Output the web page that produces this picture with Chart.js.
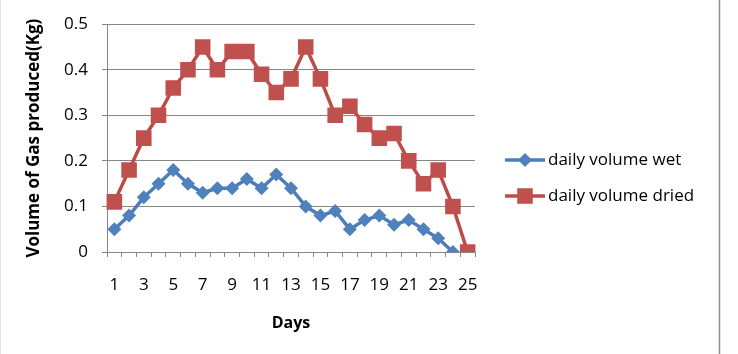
<!DOCTYPE html>
<html>
<head>
<meta charset="utf-8">
<script src="https://cdn.jsdelivr.net/npm/chart.js@4.4.1/dist/chart.umd.min.js"></script>
<style>
  html, body { margin: 0; padding: 0; background: #fff; }
</style>
</head>
<body>
<canvas id="gasChart" width="738" height="354"></canvas>
<script>
// chart data
const days = ["1", "2", "3", "4", "5", "6", "7", "8", "9", "10", "11", "12", "13",
              "14", "15", "16", "17", "18", "19", "20", "21", "22", "23", "24", "25"];
const dailyWet = [0.05, 0.08, 0.12, 0.15, 0.18, 0.15, 0.13, 0.14, 0.14, 0.16, 0.14, 0.17,
                  0.14, 0.10, 0.08, 0.09, 0.05, 0.07, 0.08, 0.06, 0.07, 0.05, 0.03, 0.00];
const dailyDried = [0.11, 0.18, 0.25, 0.30, 0.36, 0.40, 0.45, 0.40, 0.44, 0.44, 0.39, 0.35,
                    0.38, 0.45, 0.38, 0.30, 0.32, 0.28, 0.25, 0.26, 0.20, 0.15, 0.18, 0.10, 0.00];
const seriesNames = ["daily volume wet", "daily volume dried"];
const yTicks = [0, 0.1, 0.2, 0.3, 0.4, 0.5];

const font = "'Open Sans'";
const gridGray = "#868686";

// white page + the thin frame around the chart
const framePlugin = {
    id: "frame",
    beforeDraw(chart) {
        let ctx = chart.ctx;
        ctx.save();
        ctx.fillStyle = "#fff";
        ctx.fillRect(0, 0, chart.width, chart.height);
        ctx.strokeStyle = "#8c8c8c";
        ctx.lineWidth = 1.5;
        ctx.beginPath();
        ctx.moveTo(719.5, 0);
        ctx.lineTo(719.5, chart.height);
        ctx.stroke();
        ctx.strokeStyle = "#e4e4e4";
        ctx.lineWidth = 1;
        ctx.beginPath();
        ctx.moveTo(0.5, 0);
        ctx.lineTo(0.5, chart.height);
        ctx.stroke();
        ctx.restore();
    }
};

// Excel style legend: line with the marker in the middle
const lineLegend = {
    id: "lineLegend",
    afterDraw(chart) {
        let ctx = chart.ctx;
        let x = 505, y = 160, step = 36, len = 40;
        ctx.save();
        chart.data.datasets.forEach((ds, i) => {
            let cy = y + i * step;
            ctx.strokeStyle = ds.borderColor;
            ctx.lineWidth = ds.borderWidth;
            ctx.beginPath();
            ctx.moveTo(x, cy);
            ctx.lineTo(x + len, cy);
            ctx.stroke();
            let cx = x + len / 2;
            let r = ds.pointRadius;
            ctx.fillStyle = ds.pointBackgroundColor;
            ctx.beginPath();
            if (ds.pointStyle === "rectRot") {
                ctx.moveTo(cx - r, cy);
                ctx.lineTo(cx, cy - r);
                ctx.lineTo(cx + r, cy);
                ctx.lineTo(cx, cy + r);
                ctx.closePath();
            } else {
                let s = r * Math.SQRT1_2;
                ctx.rect(cx - s, cy - s, 2 * s, 2 * s);
            }
            ctx.fill();
            ctx.fillStyle = "#000";
            ctx.font = "17px " + font;
            ctx.textBaseline = "middle";
            ctx.textAlign = "left";
            ctx.fillText(ds.label, x + len + 3, cy);
        });
        ctx.restore();
    }
};

let ctx = document.getElementById("gasChart").getContext("2d");
new Chart(ctx, {
    type: "line",
    data: {
        labels: days,
        datasets: [{
            label: seriesNames[0],
            data: dailyWet,
            borderColor: "#4a7ebb",
            backgroundColor: "#4f81bd",
            pointBackgroundColor: "#4f81bd",
            pointBorderWidth: 0,
            pointStyle: "rectRot",
            pointRadius: 7,
            borderWidth: 3.5,
            tension: 0
        }, {
            label: seriesNames[1],
            data: dailyDried,
            borderColor: "#be4b48",
            backgroundColor: "#c0504d",
            pointBackgroundColor: "#c0504d",
            pointBorderWidth: 0,
            pointStyle: "rect",
            pointRadius: 11,
            borderWidth: 3.5,
            tension: 0
        }]
    },
    options: {
        responsive: false,
        animation: false,
        devicePixelRatio: 1,
        layout: { padding: { top: 19, right: 263, left: 0, bottom: 0 } },
        plugins: {
            legend: { display: false },
            tooltip: { enabled: false }
        },
        scales: {
            x: {
                offset: true,
                grid: { offset: true, drawOnChartArea: false, drawTicks: true, tickLength: 5, color: gridGray },
                border: { display: true, color: gridGray },
                ticks: {
                    autoSkip: false,
                    maxRotation: 0,
                    padding: 18,
                    color: "#000",
                    font: { family: font, size: 17 },
                    callback: function (v, i) { return i % 2 === 0 ? this.getLabelForValue(v) : ""; }
                },
                title: {
                    display: true,
                    text: "Days",
                    color: "#000",
                    font: { family: font, size: 16, weight: "bold" },
                    padding: { top: 0, bottom: 21 }
                },
                afterFit: s => { s.height = 354 - 252; }
            },
            y: {
                min: 0,
                max: 0.5,
                afterBuildTicks: s => { s.ticks = yTicks.map(v => ({ value: v })); },
                grid: { color: gridGray, tickLength: 5 },
                border: { display: true, color: gridGray },
                ticks: {
                    padding: 14,
                    color: "#000",
                    font: { family: font, size: 17 },
                    callback: v => v === 0 ? "0" : v.toFixed(1)
                },
                title: {
                    display: true,
                    text: "Volume of Gas produced(Kg)",
                    color: "#000",
                    font: { family: font, size: 17, weight: "bold" },
                    padding: { top: 24, bottom: 0 }
                },
                afterFit: s => { s.width = 107; }
            }
        }
    },
    plugins: [framePlugin, lineLegend]
});
</script>
</body>
</html>
